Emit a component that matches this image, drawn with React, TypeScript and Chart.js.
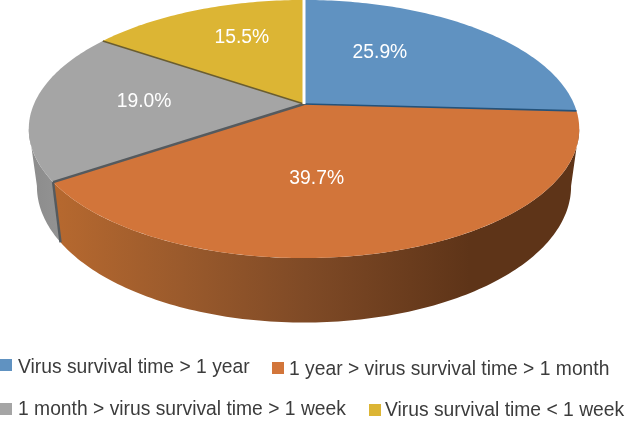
import React, { useEffect, useRef } from "react";
import { Chart, registerables } from "chart.js";

Chart.register(...registerables);

const categories = [
  "Virus survival time > 1 year",
  "1 year > virus survival time > 1 month",
  "1 month > virus survival time > 1 week",
  "Virus survival time < 1 week",
];
const shares = [25.9, 39.7, 19.0, 15.5];
const faceColors = ["#6092c1", "#d2753a", "#a5a5a5", "#dcb534"];

// styling and layout of the hand-made 3D projection
const edgeColors = ["#24527a", "#555a5e", "#6a5d30", "#ffffff"];
const edgeWidths = [1.6, 2.4, 1.6, 3];
const labelNudge = [[-16, -11], [-27, 9], [-25, -2], [-4, -16]];
const legendPlace = [
  { box: [0, 359], text: [18, 373] },
  { box: [272, 362], text: [289, 375] },
  { box: [0, 403], text: [18, 415] },
  { box: [369, 404], text: [385, 416] },
];
const TOP = { y0: 104, a: 124.2, A: 270 };
const BOTTOM = { y0: 160, a: 131, A: 262 };
const CX = 304;
const TILT = 0.194;
const FONT = '"Liberation Sans", Arial, sans-serif';

function project(theta: number, r: number, ring: typeof TOP) {
  const X = Math.sin(theta) * r;
  const Y = -Math.cos(theta) * r;
  const d = 1 - TILT * Y;
  return { x: CX + (ring.A * X) / d, y: ring.y0 + (ring.a * Y) / d };
}

function trace(ctx: CanvasRenderingContext2D, from: number, to: number, ring: typeof TOP) {
  const steps = Math.max(2, Math.ceil(Math.abs(to - from) / (Math.PI / 180)));
  for (let i = 0; i <= steps; i++) {
    const p = project(from + ((to - from) * i) / steps, 1, ring);
    ctx.lineTo(p.x, p.y);
  }
}

function wall(ctx: CanvasRenderingContext2D, from: number, to: number, fill: string | CanvasGradient) {
  ctx.beginPath();
  trace(ctx, from, to, TOP);
  trace(ctx, to, from, BOTTOM);
  ctx.closePath();
  ctx.fillStyle = fill;
  ctx.fill();
}

const pie3d = {
  id: "pie3d",
  beforeDatasetsDraw: () => false,
  afterDraw(chart: any) {
    const ctx: CanvasRenderingContext2D = chart.ctx;
    const arcs = chart.getDatasetMeta(0).data;
    const ang = (v: number) => v + Math.PI / 2;
    const RIGHT = (101 * Math.PI) / 180;
    const LEFT = (259 * Math.PI) / 180;
    ctx.save();

    // side walls
    const orangeEnd = ang(arcs[1].endAngle);
    const og = ctx.createLinearGradient(60, 0, 470, 0);
    og.addColorStop(0, "#b5682f");
    og.addColorStop(0.3, "#9a5a2c");
    og.addColorStop(0.6, "#7f4a26");
    og.addColorStop(1, "#5e3418");
    wall(ctx, RIGHT, orangeEnd, og);
    const gg = ctx.createLinearGradient(30, 0, 62, 0);
    gg.addColorStop(0, "#8c8c8c");
    gg.addColorStop(1, "#939393");
    wall(ctx, orangeEnd, LEFT, gg);

    // top faces
    arcs.forEach((arc: any, i: number) => {
      const apex = project(0, 0, TOP);
      ctx.beginPath();
      ctx.moveTo(apex.x, apex.y);
      trace(ctx, ang(arc.startAngle), ang(arc.endAngle), TOP);
      ctx.closePath();
      ctx.fillStyle = chart.data.datasets[0].backgroundColor[i];
      ctx.fill();
    });

    // slice edges
    arcs.forEach((arc: any, i: number) => {
      const a = project(0, 0, TOP);
      const b = project(ang(arc.endAngle), 1, TOP);
      ctx.beginPath();
      ctx.moveTo(a.x, a.y);
      ctx.lineTo(b.x, b.y);
      ctx.strokeStyle = edgeColors[i];
      ctx.lineWidth = edgeWidths[i];
      ctx.stroke();
    });
    const j1 = project(orangeEnd, 1, TOP);
    const j2 = project(orangeEnd, 1, BOTTOM);
    ctx.beginPath();
    ctx.moveTo(j1.x, j1.y);
    ctx.lineTo(j2.x, j2.y);
    ctx.strokeStyle = "#555a5e";
    ctx.lineWidth = 2.4;
    ctx.stroke();

    // value labels
    ctx.font = `19.3px ${FONT}`;
    ctx.fillStyle = "#ffffff";
    ctx.textAlign = "center";
    ctx.textBaseline = "middle";
    arcs.forEach((arc: any, i: number) => {
      const mid = ang((arc.startAngle + arc.endAngle) / 2);
      const p = project(mid, 0.5, TOP);
      ctx.fillText(
        shares[i].toFixed(1) + "%",
        p.x + labelNudge[i][0],
        p.y + labelNudge[i][1]
      );
    });

    // legend
    ctx.font = `19.3px ${FONT}`;
    ctx.textAlign = "left";
    ctx.textBaseline = "alphabetic";
    categories.forEach((name, i) => {
      const place = legendPlace[i];
      ctx.fillStyle = chart.data.datasets[0].backgroundColor[i];
      ctx.fillRect(place.box[0], place.box[1], 12, 12);
      ctx.fillStyle = "#3c3c3c";
      ctx.fillText(name, place.text[0], place.text[1]);
    });
    ctx.restore();
  },
};

export default function App() {
  const ref = useRef<HTMLCanvasElement>(null);
  useEffect(() => {
    const chart = new Chart(ref.current!, {
      type: "pie",
      data: {
        labels: categories,
        datasets: [{ data: shares, backgroundColor: faceColors, borderWidth: 0 }],
      },
      options: {
        responsive: false,
        animation: false,
        events: [],
        plugins: { legend: { display: false }, tooltip: { enabled: false } },
      },
      plugins: [pie3d],
    } as any);
    return () => chart.destroy();
  }, []);
  return (
    <canvas
      ref={ref}
      width={626}
      height={424}
      style={{ position: "absolute", left: 0, top: 0, display: "block" }}
    />
  );
}
